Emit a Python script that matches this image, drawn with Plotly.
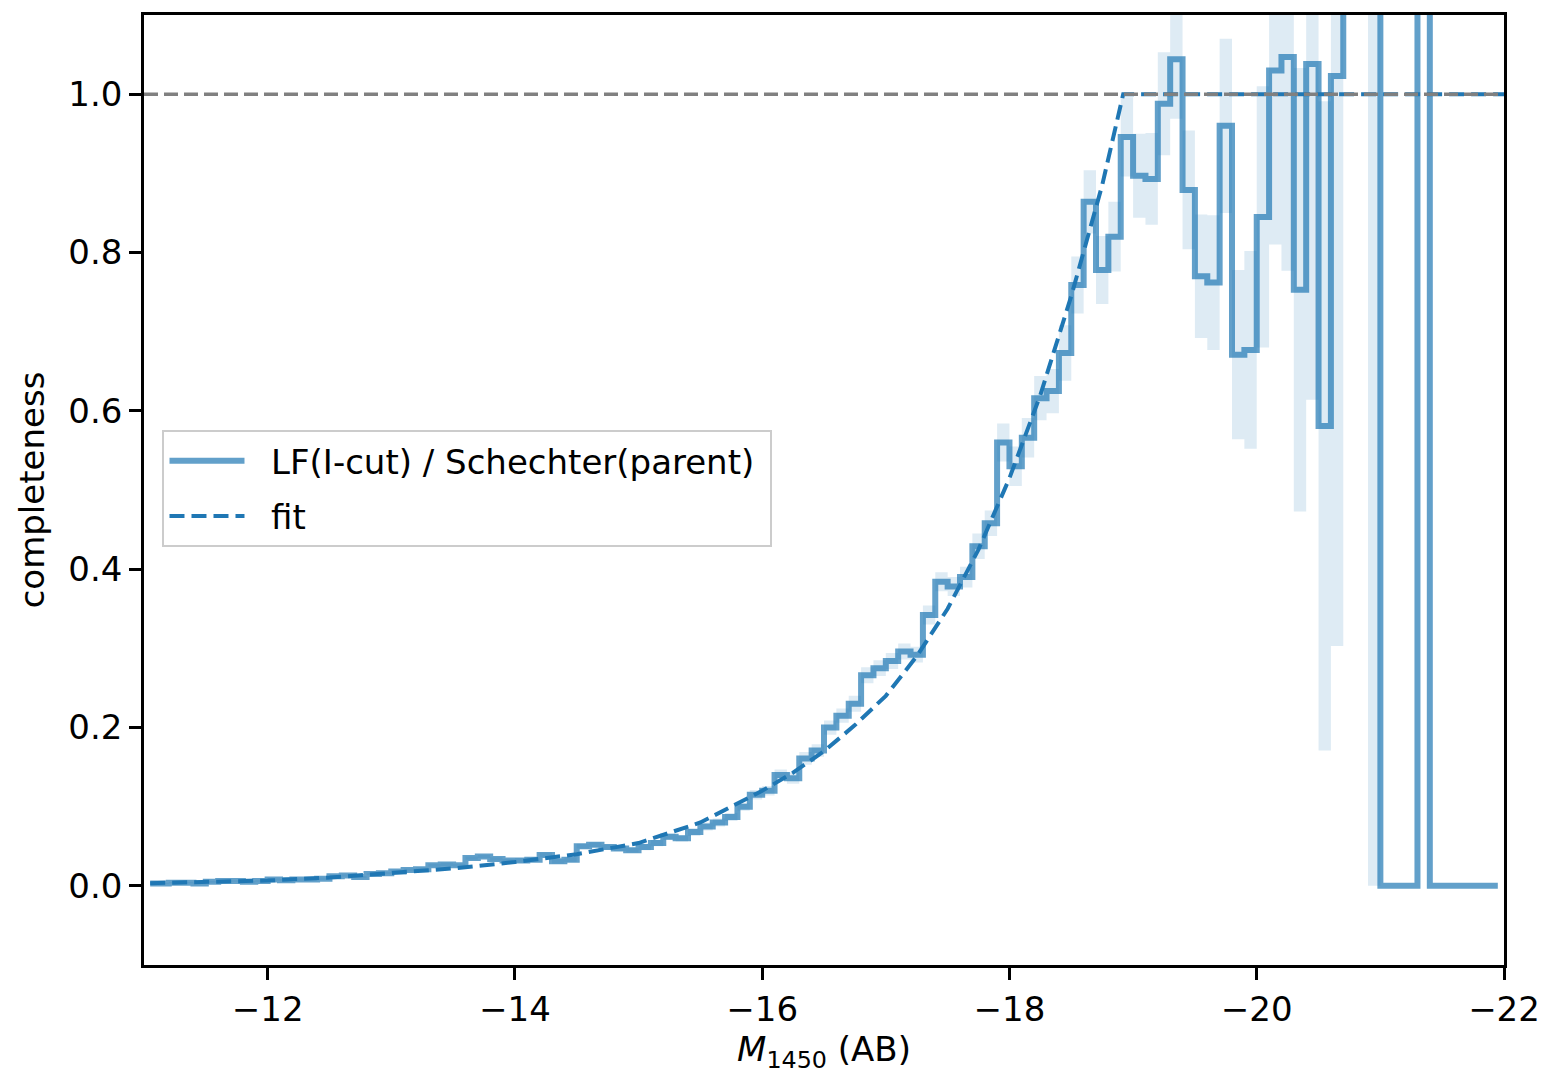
import numpy as np
import plotly.graph_objects as go

# ---- data: completeness per 0.1-mag bin (bin centres from -11.05 to -21.95) ----
bin_centres = np.round(np.arange(-11.05, -22.0, -0.1), 2)

ratio = [0.003, 0.003, 0.004, 0.004, 0.003, 0.005, 0.006, 0.006, 0.005, 0.006,
         0.008, 0.007, 0.008, 0.008, 0.009, 0.012, 0.013, 0.011, 0.015, 0.016,
         0.018, 0.020, 0.021, 0.026, 0.027, 0.026, 0.035, 0.037, 0.034, 0.032,
         0.032, 0.033, 0.039, 0.031, 0.033, 0.050, 0.052, 0.049, 0.047, 0.045,
         0.049, 0.054, 0.062, 0.060, 0.068, 0.075, 0.080, 0.087, 0.100, 0.115,
         0.120, 0.140, 0.136, 0.161, 0.171, 0.200, 0.215, 0.230, 0.266, 0.275,
         0.284, 0.296, 0.292, 0.342, 0.384, 0.378, 0.390, 0.429, 0.458, 0.560,
         0.530, 0.566, 0.616, 0.625, 0.673, 0.759, 0.864, 0.778, 0.820, 0.946,
         0.897, 0.893, 0.988, 1.044, 0.879, 0.770, 0.762, 0.960, 0.671, 0.677,
         0.845, 1.030, 1.047, 0.753, 1.038, 0.581, 1.023, 1.600, 1.800, 2.000,
         0.0, 0.0, 0.0, 2.000, 0.0, 0.0, 0.0, 0.0, 0.0, 0.0]

ratio_err = [0.001, 0.001, 0.001, 0.001, 0.001, 0.001, 0.001, 0.001, 0.001, 0.001,
             0.0015, 0.0015, 0.0015, 0.0015, 0.0015, 0.0015, 0.0015, 0.0015, 0.0015, 0.0015,
             0.002, 0.002, 0.002, 0.002, 0.002, 0.002, 0.002, 0.002, 0.002, 0.002,
             0.003, 0.003, 0.003, 0.003, 0.003, 0.003, 0.003, 0.003, 0.003, 0.003,
             0.004, 0.004, 0.004, 0.004, 0.005, 0.005, 0.005, 0.005, 0.005, 0.006,
             0.006, 0.007, 0.007, 0.008, 0.008, 0.009, 0.009, 0.010, 0.010, 0.010,
             0.010, 0.010, 0.010, 0.012, 0.012, 0.012, 0.013, 0.016, 0.016, 0.024,
             0.025, 0.025, 0.028, 0.028, 0.035, 0.036, 0.040, 0.043, 0.044, 0.050,
             0.053, 0.058, 0.065, 0.075, 0.075, 0.078, 0.085, 0.110, 0.107, 0.125,
             0.165, 0.220, 0.270, 0.280, 0.424, 0.410, 0.720, 0.400, 0.500, 2.000,
             0.0, 0.0, 0.0, 0.600, 0.0, 0.0, 0.0, 0.0, 0.0, 0.0]

# fitted completeness curve
fit_mag = [-11.05, -11.5, -12.0, -12.5, -13.0, -13.5, -14.0, -14.5, -15.0, -15.5,
           -16.0, -16.25, -16.5, -16.75, -17.0, -17.25, -17.5, -17.75, -18.0,
           -18.25, -18.5, -18.75, -18.92, -22.0]
fit_comp = [0.0034, 0.0047, 0.0067, 0.0105, 0.016, 0.022, 0.030, 0.040, 0.054, 0.080,
            0.120, 0.143, 0.170, 0.203, 0.240, 0.290, 0.350, 0.425, 0.515,
            0.620, 0.745, 0.885, 1.0, 1.0]

x_ticks = [-12, -14, -16, -18, -20, -22]
x_tick_text = ["\u221212", "\u221214", "\u221216", "\u221218", "\u221220", "\u221222"]
y_ticks = [0.0, 0.2, 0.4, 0.6, 0.8, 1.0]

ratio_a = np.array(ratio)
err_a = np.array(ratio_err)
band_lo = ratio_a - err_a
band_hi = ratio_a + err_a

C0 = "#1f77b4"
FONT = "DejaVu Sans"
FS = 34
PAD = "\u00a0\u00a0"   # visual gap between legend sample and label

fig = go.Figure()

fig.add_trace(go.Scatter(x=bin_centres, y=band_lo, mode="lines",
                         line=dict(width=0, shape="hvh"), showlegend=False,
                         legendgroup="band", hoverinfo="skip"))
fig.add_trace(go.Scatter(x=bin_centres, y=band_hi, mode="lines",
                         line=dict(width=0, shape="hvh"), fill="tonexty",
                         fillcolor="rgba(31,119,180,0.15)", showlegend=False,
                         legendgroup="band", hoverinfo="skip"))

fig.add_trace(go.Scatter(x=bin_centres, y=ratio, mode="lines",
                         name=PAD + "LF(I-cut) / Schechter(parent)" + "\u00a0",
                         legendgroup="ratio",
                         line=dict(color="rgba(31,119,180,0.7)", width=6, shape="hvh")))

fig.add_hline(y=1.0, line=dict(color="#808080", width=3.5, dash="14px,6px"), layer="above")

fig.add_trace(go.Scatter(x=fit_mag, y=fit_comp, mode="lines", name=PAD + "fit",
                         legendgroup="fit",
                         line=dict(color=C0, width=4, dash="15px,7px")))

axis_common = dict(showline=True, linecolor="black", linewidth=2.5, mirror=True,
                   ticks="outside", ticklen=12, tickwidth=2.5, tickcolor="black",
                   showgrid=False, zeroline=False,
                   tickfont=dict(family=FONT, size=FS, color="black"))

fig.update_xaxes(range=[-11, -22], tickvals=x_ticks, ticktext=x_tick_text,
                 title=dict(text="<i>M</i><sub>1450</sub> (AB)",
                            font=dict(family=FONT, size=FS, color="black"),
                            standoff=4),
                 **axis_common)
fig.update_yaxes(range=[-0.1, 1.1], tickvals=y_ticks, tickformat=".1f",
                 title=dict(text="completeness",
                            font=dict(family=FONT, size=FS, color="black"),
                            standoff=14),
                 **axis_common)

# page body has an 8px margin, so the figure is shrunk by 8px and margins shifted
fig.update_layout(
    width=1539, height=1069,
    margin=dict(l=135.5, r=43, t=4, b=112),
    paper_bgcolor="white", plot_bgcolor="white",
    font=dict(family=FONT, size=FS, color="black"),
    legend=dict(x=0.0136, y=0.563, xanchor="left", yanchor="top",
                traceorder="grouped", tracegroupgap=8,
                bgcolor="rgba(255,255,255,0.8)", bordercolor="#cccccc",
                borderwidth=2, font=dict(family=FONT, size=FS, color="black"),
                itemwidth=75),
)

fig.write_html("out.html")
